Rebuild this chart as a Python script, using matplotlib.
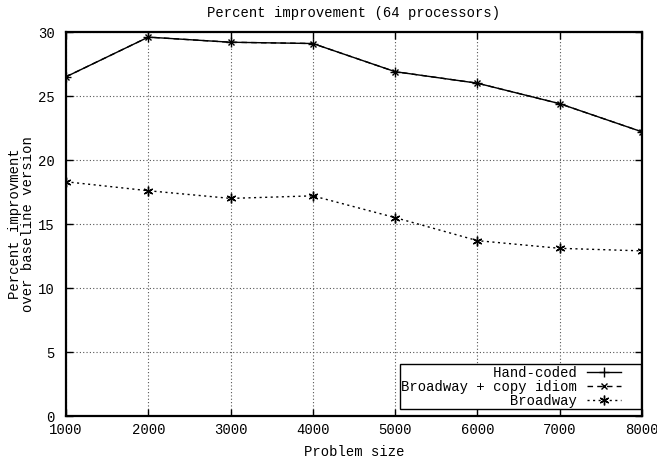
import matplotlib.pyplot as plt
from matplotlib.legend_handler import HandlerLine2D

tamanhos = [1000, 2000, 3000, 4000, 5000, 6000, 7000, 8000]
hand_coded = [26.5, 29.6, 29.2, 29.1, 26.9, 26.0, 24.4, 22.2]
copy_idiom = [26.5, 29.6, 29.2, 29.1, 26.9, 26.0, 24.4, 22.2]
broadway = [18.3, 17.6, 17.0, 17.2, 15.5, 13.7, 13.1, 12.9]

rotulos = ["Hand-coded", "Broadway + copy idiom", "Broadway"]
largura = max(len(r) for r in rotulos)
# fonte monoespacada: completa com espacos para alinhar o texto a direita
rotulos = [r.rjust(largura) for r in rotulos]


# amostra da legenda mais curta, deixando folga a direita (como no gnuplot)
class AmostraCurta(HandlerLine2D):
    def create_artists(self, legend, orig_handle, xdescent, ydescent, width, height, fontsize, trans):
        return super().create_artists(legend, orig_handle, xdescent, ydescent, width - 13,
                                      height, fontsize, trans)


plt.rcParams['font.family'] = ['Liberation Mono', 'DejaVu Sans Mono']
plt.rcParams['font.size'] = 10

fig = plt.figure(figsize=(6.57, 4.62), dpi=100)
ax = fig.add_axes([66 / 657, 1 - 416 / 462, 576 / 657, 384 / 462])

l1, = ax.plot(tamanhos, hand_coded, color='black', lw=1, ls='-', marker='+', ms=7, mew=1, label=rotulos[0])
l2, = ax.plot(tamanhos, copy_idiom, color='black', lw=1, ls=(0, (4, 3)), marker='x', ms=5, mew=1, label=rotulos[1])
l3, = ax.plot(tamanhos, broadway, color='black', lw=1, ls=(0, (1.5, 2.5)), marker=(6, 2, 0), ms=7, mew=1, label=rotulos[2])

ax.set_xlim(1000, 8000)
ax.set_ylim(0, 30)
ax.set_xticks(tamanhos)
ax.set_yticks([0, 5, 10, 15, 20, 25, 30])
ax.tick_params(direction='in', top=True, right=True, length=5, width=1)
ax.tick_params(axis='x', pad=5)
ax.tick_params(axis='y', pad=8)
for s in ax.spines.values():
    s.set_linewidth(1.6)
ax.grid(True, color='#555555', ls=(0, (1, 2)), lw=0.8)

ax.set_title("Percent improvement (64 processors)", fontsize=10, pad=11)
ax.set_xlabel("Problem size", labelpad=6)
ax.set_ylabel("Percent improvment\nover baseline version", labelpad=2, linespacing=0.95)

handler = AmostraCurta()
leg = ax.legend(loc='lower right', bbox_to_anchor=(0.998, 0.018), markerfirst=False,
                fancybox=False, edgecolor='black', framealpha=1, borderpad=0.1,
                labelspacing=0.0, handlelength=3.8, handletextpad=0.7, borderaxespad=0,
                handler_map={l1: handler, l2: handler, l3: handler})
leg.get_frame().set_linewidth(1)

plt.savefig('out.png', dpi=100)
